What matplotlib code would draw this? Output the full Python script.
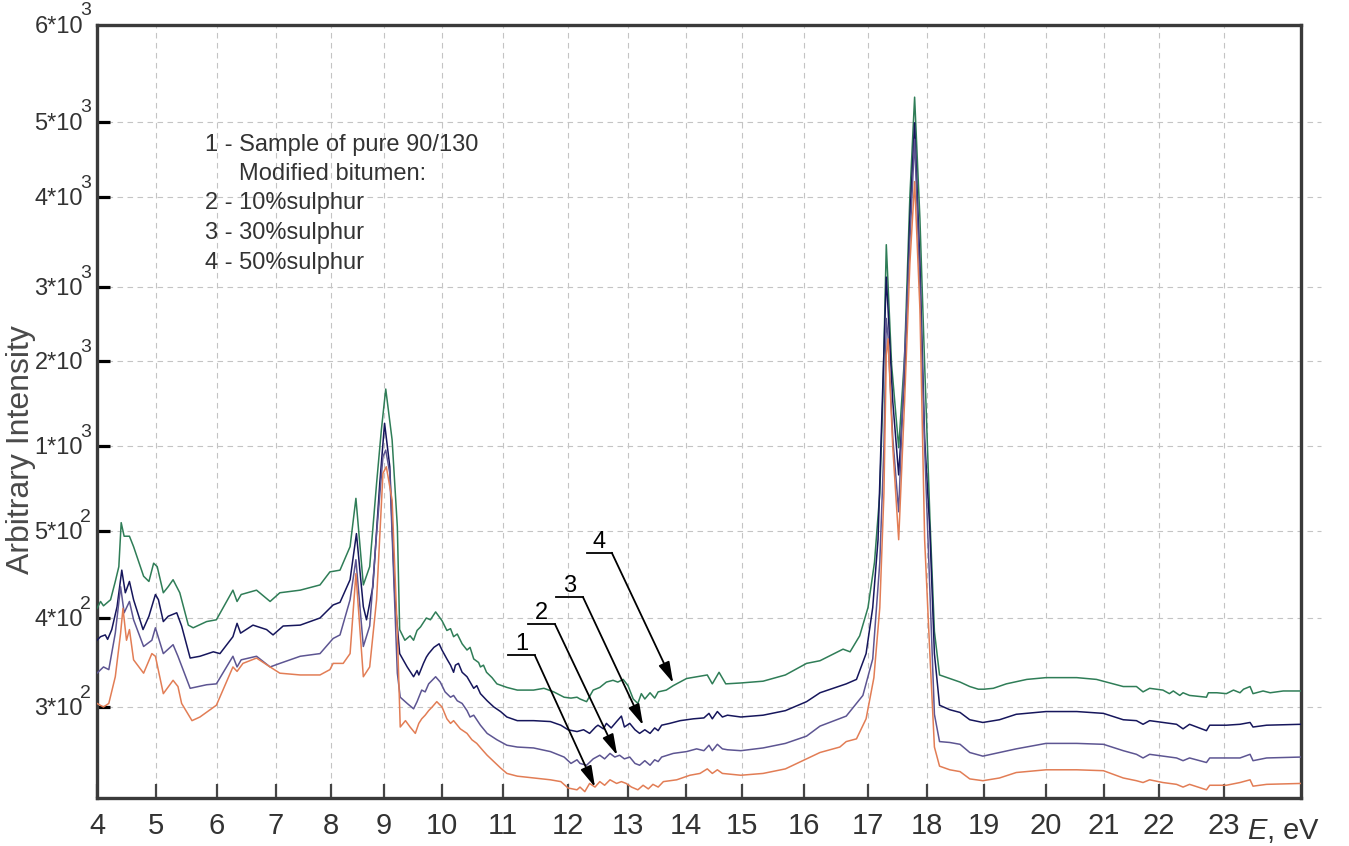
import numpy as np
import matplotlib
matplotlib.use('Agg')
import matplotlib.pyplot as plt
import matplotlib.transforms as mtransforms

plt.rcParams['font.family'] = ['Liberation Sans', 'DejaVu Sans']
plt.rcParams['mathtext.fontset'] = 'custom'
plt.rcParams['mathtext.rm'] = 'Liberation Sans'
plt.rcParams['mathtext.it'] = 'Liberation Sans:italic'

# ---------------- data (energy in eV, arbitrary intensity) ----------------
energy_1 = [4.0,4.11,4.2,4.31,4.4,4.44,4.5,4.55,4.62,4.79,
            4.93,4.99,5.12,5.28,5.36,5.42,5.59,5.72,5.99,6.27,
            6.34,6.44,6.67,6.9,7.07,7.44,7.8,7.98,8.04,8.23,
            8.36,8.47,8.61,8.73,8.86,8.98,9.04,9.14,9.23,9.28,
            9.37,9.45,9.54,9.6,9.65,9.71,9.77,9.83,9.91,10.0,
            10.08,10.14,10.19,10.25,10.3,10.41,10.49,10.57,10.66,10.74,
            10.85,10.96,11.06,11.22,11.47,11.73,11.89,12.0,12.15,12.2,
            12.28,12.36,12.45,12.53,12.61,12.7,12.81,12.89,12.97,13.06,
            13.17,13.26,13.35,13.43,13.52,13.61,13.84,14.07,14.25,14.38,
            14.47,14.56,14.65,14.98,15.34,15.7,16.04,16.25,16.56,16.66,
            16.82,16.97,17.1,17.2,17.27,17.31,17.34,17.42,17.52,17.62,
            17.71,17.79,17.88,17.96,18.05,18.13,18.22,18.4,18.58,18.75,
            18.98,19.25,19.52,20.0,20.53,20.99,21.35,21.59,21.71,21.83,
            22.06,22.27,22.37,22.47,22.73,22.78,23.04,23.27,23.44,23.49,
            23.72,24.3]
intensity_1 = [304,300,304,334,383,411,375,387,353,338,
               360,357,315,330,323,304,285,289,302,345,
               340,349,355,345,338,336,336,342,349,349,
               360,451,334,345,421,839,878,682,383,278,
               285,278,271,282,287,291,296,300,306,300,
               287,282,285,280,276,271,264,260,253,247,
               240,233,227,224,222,220,218,211,209,212,
               207,216,212,218,214,220,216,218,216,212,
               209,214,210,215,212,218,220,225,227,232,
               227,231,227,225,227,232,243,250,256,262,
               265,287,333,412,722,2075,2300,992,490,1524,
               3261,4205,2700,490,360,256,235,231,229,221,
               219,222,228,231,231,230,222,219,217,220,
               217,215,212,215,209,214,214,217,220,213,
               215,216]

energy_2 = [4.0,4.11,4.2,4.31,4.4,4.46,4.55,4.62,4.79,4.93,
            4.99,5.12,5.28,5.36,5.56,5.83,5.99,6.27,6.34,6.41,
            6.67,6.9,7.07,7.44,7.8,8.04,8.17,8.36,8.47,8.61,
            8.73,8.86,8.98,9.03,9.1,9.16,9.23,9.28,9.4,9.51,
            9.57,9.65,9.71,9.77,9.89,9.97,10.05,10.14,10.19,10.25,
            10.33,10.41,10.46,10.52,10.63,10.74,10.9,11.06,11.22,11.47,
            11.73,11.94,12.05,12.15,12.2,12.31,12.42,12.53,12.61,12.7,
            12.78,12.86,12.94,13.03,13.12,13.2,13.29,13.38,13.46,13.52,
            13.58,13.78,14.01,14.19,14.32,14.41,14.47,14.56,14.65,14.74,
            14.98,15.34,15.7,16.04,16.25,16.66,16.92,17.08,17.2,17.27,
            17.31,17.34,17.42,17.52,17.62,17.71,17.79,17.88,17.96,18.05,
            18.13,18.22,18.4,18.58,18.75,18.98,19.25,19.52,20.0,20.53,
            20.99,21.35,21.59,21.71,21.83,22.06,22.27,22.37,22.47,22.73,
            22.78,23.04,23.27,23.44,23.49,23.72,24.3]
intensity_2 = [338,345,342,383,436,406,419,398,368,375,
               389,360,370,357,321,325,326,357,345,353,
               357,345,349,357,360,377,381,421,467,368,
               391,497,937,976,839,459,338,311,304,298,
               306,319,317,326,334,328,317,311,313,307,
               304,296,289,291,280,271,264,258,256,255,
               251,245,238,242,238,236,243,247,243,249,
               245,247,243,245,238,236,241,236,242,240,
               245,249,251,254,252,258,252,259,254,253,
               252,255,260,268,279,290,313,354,464,992,
               2575,2325,1092,613,2075,3513,4770,3010,992,433,
               292,262,261,259,250,246,250,254,260,260,
               259,252,248,244,248,246,244,241,244,239,
               244,244,244,248,241,244,245]

energy_3 = [4.0,4.06,4.14,4.18,4.25,4.34,4.42,4.48,4.55,4.62,
            4.78,4.88,4.99,5.04,5.12,5.2,5.34,5.42,5.56,5.72,
            5.94,6.05,6.27,6.34,6.4,6.61,6.84,6.95,7.13,7.44,
            7.8,8.04,8.17,8.36,8.48,8.61,8.67,8.79,8.92,9.01,
            9.1,9.19,9.27,9.4,9.51,9.57,9.6,9.68,9.73,9.77,
            9.86,9.95,10.0,10.08,10.14,10.19,10.22,10.27,10.33,10.41,
            10.46,10.52,10.57,10.63,10.74,10.85,10.96,11.06,11.22,11.47,
            11.73,11.89,12.0,12.15,12.26,12.36,12.46,12.5,12.59,12.64,
            12.72,12.81,12.89,12.94,13.03,13.12,13.2,13.29,13.38,13.46,
            13.52,13.58,13.72,13.9,14.13,14.32,14.41,14.47,14.56,14.65,
            14.74,14.98,15.34,15.7,16.04,16.25,16.66,16.82,16.97,17.08,
            17.17,17.23,17.31,17.34,17.42,17.52,17.62,17.71,17.79,17.88,
            17.96,18.05,18.13,18.22,18.4,18.58,18.75,18.98,19.25,19.52,
            20.0,20.53,20.99,21.35,21.59,21.71,21.83,22.06,22.27,22.37,
            22.47,22.73,22.78,23.04,23.27,23.44,23.49,23.72,24.3]
intensity_3 = [375,379,381,376,387,413,455,429,442,421,
               387,402,427,421,396,402,406,391,355,357,
               362,360,379,394,383,392,387,381,391,392,
               400,415,418,444,497,413,398,436,780,1267,
               878,421,360,345,334,341,336,349,356,360,
               367,371,364,354,347,339,347,349,339,334,
               328,321,324,315,307,300,295,289,285,285,
               284,280,275,273,275,271,278,280,276,282,
               277,284,290,278,282,275,271,275,271,277,
               274,280,282,285,287,288,293,287,295,289,
               291,289,291,296,306,316,326,331,360,412,
               490,1254,3110,2700,1524,830,1795,3764,4990,3261,
               1092,505,360,302,297,294,286,283,286,292,
               295,295,293,286,285,281,285,283,281,276,
               281,274,280,280,281,283,278,280,281]

energy_4 = [4.0,4.06,4.11,4.23,4.31,4.37,4.41,4.46,4.55,4.62,
            4.79,4.88,4.96,5.02,5.12,5.2,5.28,5.39,5.53,5.61,
            5.83,5.99,6.27,6.34,6.41,6.67,6.9,7.07,7.44,7.8,
            7.98,8.17,8.36,8.47,8.61,8.73,8.86,8.95,9.03,9.14,
            9.23,9.27,9.36,9.45,9.51,9.57,9.63,9.73,9.8,9.89,
            10.0,10.08,10.14,10.19,10.25,10.33,10.41,10.46,10.52,10.6,
            10.63,10.68,10.73,10.82,10.9,11.06,11.22,11.47,11.63,11.78,
            11.94,12.05,12.15,12.2,12.31,12.42,12.53,12.64,12.75,12.83,
            12.92,13.0,13.09,13.17,13.23,13.29,13.38,13.46,13.52,13.66,
            13.78,14.01,14.19,14.38,14.47,14.59,14.71,14.98,15.34,15.7,
            16.04,16.25,16.61,16.72,16.87,17.0,17.11,17.2,17.25,17.31,
            17.4,17.52,17.62,17.71,17.79,17.88,17.96,18.05,18.13,18.22,
            18.4,18.58,18.75,18.9,19.0,19.15,19.36,19.69,20.0,20.53,
            20.87,21.11,21.35,21.59,21.71,21.83,22.06,22.16,22.22,22.32,
            22.37,22.47,22.73,22.76,22.89,23.04,23.16,23.27,23.33,23.44,
            23.49,23.66,23.78,24.0,24.3]
intensity_4 = [411,419,414,421,442,459,549,494,494,482,
               448,442,463,459,429,436,444,429,392,389,
               396,398,432,419,427,432,419,429,432,438,
               453,455,482,692,438,459,780,1188,1670,1071,
               525,387,375,380,375,386,390,400,398,407,
               397,386,388,379,382,371,364,367,354,350,
               345,347,339,333,326,322,319,319,321,317,
               311,310,311,309,306,319,322,328,330,328,
               331,324,309,304,315,309,316,310,317,319,
               324,332,334,336,326,339,326,327,329,336,
               349,352,365,362,380,412,464,722,1524,3470,
               1957,990,2065,4015,5256,3760,1957,586,385,336,
               332,328,323,320,320,321,326,331,333,333,
               331,327,323,323,317,321,319,315,318,313,
               316,313,311,316,316,315,319,316,320,323,
               315,318,316,318,318]

series_labels = ['1', '2', '3', '4']
series_colors = ['#e27d55', '#5d5592', '#16165c', '#2f7d57']

x_ticks = list(range(4, 24))
y_label_values = [300, 400, 500, 1000, 2000, 3000, 4000, 5000, 6000]
y_label_mantissa = ['3', '4', '5', '1', '2', '3', '4', '5', '6']
y_label_exponent = ['2', '2', '2', '3', '3', '3', '3', '3', '3']
y_tick_values = [300, 400, 500, 1000, 2000, 3000, 4000, 5000]

legend_lines = ['1 - Sample of pure 90/130', 'Modified bitumen:', '2 - 10%sulphur',
                '3 - 30%sulphur', '4 - 50%sulphur']

# callouts: label, underline (x range, y), arrow tip on the curve
callout_labels = ['1', '2', '3', '4']
callout_line_x = [(11.08, 11.49), (11.38, 11.80), (11.82, 12.25), (12.32, 12.73)]
callout_line_y = [358, 393, 424, 475]
callout_tip = [(12.45, 212), (12.82, 247), (13.26, 280), (13.78, 327)]

# ---------------- non-uniform axis scales of the original plot ----------------
SX_V = [4, 5, 6, 7, 8, 9, 10, 11, 12, 13, 14, 15, 16, 17, 18, 19, 20, 21, 22, 23, 24.3]
SX_P = [0, 59, 120, 179, 234, 287, 345, 406, 471, 531, 589, 645, 707, 771, 830, 887, 949,
        1007, 1062, 1127, 1204]
SY_V = [200, 300, 400, 500, 1000, 2000, 3000, 4000, 5000, 6000]
SY_P = [0, 91, 180, 267, 352, 437, 511, 601, 676, 773]


def fx(v):
    return np.interp(np.asarray(v, dtype=float), SX_V, SX_P)


def fx_inv(p):
    return np.interp(np.asarray(p, dtype=float), SX_P, SX_V)


def fy(v):
    return np.interp(np.asarray(v, dtype=float), SY_V, SY_P)


def fy_inv(p):
    return np.interp(np.asarray(p, dtype=float), SY_P, SY_V)


W, H = 1349, 846
fig = plt.figure(figsize=(W / 100, H / 100), dpi=100)
ax = fig.add_axes([97 / W, 48 / H, 1204 / W, 773 / H])
ax.set_xscale('function', functions=(fx, fx_inv))
ax.set_yscale('function', functions=(fy, fy_inv))
ax.set_xlim(4, 24.3)
ax.set_ylim(200, 6000)

# grid
ax.set_xticks(x_ticks)
ax.set_xticklabels([str(t) for t in x_ticks])
ax.grid(axis='x', linestyle=(0, (5, 4)), color='#c4c4c4', lw=0.8)
ax.set_axisbelow(True)
gtrans = mtransforms.blended_transform_factory(ax.transAxes, ax.transData)
for v in y_tick_values:
    ax.plot([0, 1.017], [v, v], transform=gtrans, clip_on=False, ls=(0, (5, 4)),
            color='#c4c4c4', lw=0.8, zorder=0)

# curves
curves = [(energy_4, intensity_4, series_colors[3]),
          (energy_3, intensity_3, series_colors[2]),
          (energy_2, intensity_2, series_colors[1]),
          (energy_1, intensity_1, series_colors[0])]
for ex, iy, c in curves:
    ax.plot(ex, iy, color=c, lw=1.1, zorder=3)

# spines & ticks
for s in ax.spines.values():
    s.set_color('#3a3a3a')
    s.set_linewidth(2.4)
ax.set_yticks(y_tick_values)
ax.yaxis.set_minor_locator(matplotlib.ticker.NullLocator())
ax.xaxis.set_minor_locator(matplotlib.ticker.NullLocator())
ax.tick_params(axis='y', direction='in', length=9.5, width=2.3, color='black', labelleft=False)
ax.tick_params(axis='x', direction='in', length=10, width=1.6, color='#444444',
               labelsize=21, pad=10, labelcolor='#333333')

# y tick labels "m*10^e"
for v, m, e in zip(y_label_values, y_label_mantissa, y_label_exponent):
    ax.annotate(f'{m}*10', xy=(0, v), xycoords=('axes fraction', 'data'), xytext=(-14, -2),
                textcoords='offset pixels', ha='right', va='center', fontsize=17,
                color='#333333', annotation_clip=False)
    ax.annotate(e, xy=(0, v), xycoords=('axes fraction', 'data'), xytext=(-6, 14),
                textcoords='offset pixels', ha='right', va='center', fontsize=14,
                color='#333333', annotation_clip=False)

# x axis unit label
ax.annotate(r'$\mathit{E}$, eV', xy=(24.0, 0), xycoords=('data', 'axes fraction'),
            xytext=(0, -33), textcoords='offset pixels', ha='center', va='center',
            fontsize=21, color='#333333', annotation_clip=False)

# y axis label
fig.text(21 / W, 1 - 450 / H, 'Arbitrary Intensity', rotation=90, ha='center', va='center',
         fontsize=23, color='#4a4a4a')

# legend text block
legend_x = [205, 239, 205, 205, 205]
legend_y = [145, 174, 203, 233, 263]
for t, lx, ly in zip(legend_lines, legend_x, legend_y):
    fig.text(lx / W, 1 - ly / H, t, ha='left', va='center', fontsize=17, color='#333333')

# callouts
for lab, (x0, x1), y, tip in zip(callout_labels, callout_line_x, callout_line_y, callout_tip):
    ax.plot([x0, x1], [y, y], color='black', lw=1.3, zorder=5)
    ax.text((x0 + x1) / 2, y, lab, ha='center', va='bottom', fontsize=17, color='black', zorder=5)
    ax.annotate('', xy=tip, xytext=(x1, y),
                arrowprops=dict(arrowstyle='-|>,head_length=0.8,head_width=0.22',
                                color='black', lw=1.3, shrinkA=0, shrinkB=0,
                                mutation_scale=16), zorder=5)

fig.savefig('out.png', dpi=100)
